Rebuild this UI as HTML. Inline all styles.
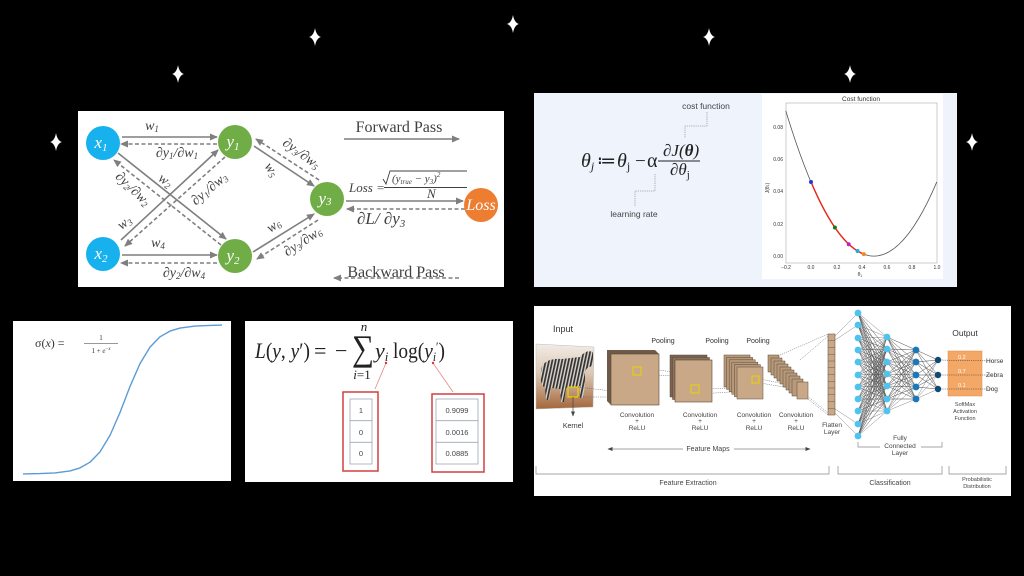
<!DOCTYPE html>
<html><head><meta charset="utf-8"><style>
html,body{margin:0;padding:0;background:#000;}
svg{display:block;font-family:"Liberation Sans",sans-serif;}
.sf{font-family:"Liberation Serif",serif;}
.it{font-style:italic;}
</style></head><body>
<svg width="1024" height="576" viewBox="0 0 1024 576" xmlns="http://www.w3.org/2000/svg">
<defs>
<marker id="ah" markerUnits="userSpaceOnUse" markerWidth="8" markerHeight="7" refX="7" refY="3.5" orient="auto"><path d="M0,0 L8,3.5 L0,7 z" fill="#7f7f7f"/></marker>
<marker id="ahs" markerUnits="userSpaceOnUse" markerWidth="5" markerHeight="4" refX="4.5" refY="2" orient="auto"><path d="M0,0 L5,2 L0,4 z" fill="#444"/></marker>
<linearGradient id="zg" x1="0" y1="0" x2="0" y2="1"><stop offset="0" stop-color="#f1ece6"/><stop offset="0.45" stop-color="#dcc8b4"/><stop offset="1" stop-color="#a4663a"/></linearGradient>
<pattern id="zs" width="3.2" height="10" patternUnits="userSpaceOnUse" patternTransform="rotate(12)"><rect width="3.2" height="10" fill="#d6d0c8"/><rect width="1.7" height="10" fill="#333"/></pattern>
<path id="star" d="M0,-9 Q1.3,-1.3 6,0 Q1.3,1.3 0,9 Q-1.3,1.3 -6,0 Q-1.3,-1.3 0,-9 Z" fill="#fff"/>
</defs>
<rect width="1024" height="576" fill="#000"/>
<!-- stars -->
<use href="#star" x="315" y="37"/>
<use href="#star" x="513" y="24"/>
<use href="#star" x="709" y="37"/>
<use href="#star" x="178" y="74"/>
<use href="#star" x="850" y="74"/>
<use href="#star" x="56" y="142"/>
<use href="#star" x="972" y="142"/>

<!-- ================= NN panel ================= -->
<rect x="78" y="111" width="426" height="176" fill="#fff"/>
<g stroke="#7f7f7f" stroke-width="1.6" fill="none">
<path d="M122,137 L217,137" marker-end="url(#ah)"/>
<path d="M217,144 L121,144" stroke-dasharray="4,2.5" marker-end="url(#ah)"/>
<path d="M118,153 L226,239" marker-end="url(#ah)"/>
<path d="M221,245 L114,160" stroke-dasharray="4,2.5" marker-end="url(#ah)"/>
<path d="M121,240 L218,150" marker-end="url(#ah)"/>
<path d="M225,157 L125,246" stroke-dasharray="4,2.5" marker-end="url(#ah)"/>
<path d="M122,255 L217,255" marker-end="url(#ah)"/>
<path d="M217,263 L121,263" stroke-dasharray="4,2.5" marker-end="url(#ah)"/>
<path d="M254,146 L314,186" marker-end="url(#ah)"/>
<path d="M319,180 L256,139" stroke-dasharray="4,2.5" marker-end="url(#ah)"/>
<path d="M253,252 L314,214" marker-end="url(#ah)"/>
<path d="M318,220 L257,259" stroke-dasharray="4,2.5" marker-end="url(#ah)"/>
<path d="M346,201 L463,201" marker-end="url(#ah)"/>
<path d="M465,209 L347,209" stroke-dasharray="4,2.5" marker-end="url(#ah)"/>
<path d="M344,139 L459,139" marker-end="url(#ah)"/>
<path d="M459,278 L334,278" stroke-dasharray="4,2.5" marker-end="url(#ah)"/>
</g>
<circle cx="103" cy="143" r="17" fill="#17b1ed"/>
<circle cx="103" cy="254" r="17" fill="#17b1ed"/>
<circle cx="235" cy="142" r="17" fill="#70ad47"/>
<circle cx="235" cy="256" r="17" fill="#70ad47"/>
<circle cx="327" cy="199" r="17" fill="#70ad47"/>
<circle cx="481" cy="205" r="17" fill="#ed7d31"/>
<g class="sf it" fill="#fff" font-size="17" text-anchor="middle">
<text x="101" y="148">x<tspan font-size="11" dy="3">1</tspan></text>
<text x="101" y="259">x<tspan font-size="11" dy="3">2</tspan></text>
<text x="233" y="147">y<tspan font-size="11" dy="3">1</tspan></text>
<text x="233" y="261">y<tspan font-size="11" dy="3">2</tspan></text>
<text x="325" y="204">y<tspan font-size="11" dy="1">3</tspan></text>
<text x="481" y="210" font-size="16">Loss</text>
</g>
<g class="sf" fill="#404040" font-size="16" text-anchor="middle">
<text x="399" y="132">Forward Pass</text>
<text x="396" y="277">Backward Pass</text>
</g>
<g class="sf it" fill="#404040" font-size="14" text-anchor="middle">
<text x="152" y="130">w<tspan font-size="9" dy="2">1</tspan></text>
<text x="177" y="157">∂y<tspan font-size="9" dy="2">1</tspan><tspan dy="-2">/∂w</tspan><tspan font-size="9" dy="2">1</tspan></text>
<text x="158" y="247">w<tspan font-size="9" dy="2">4</tspan></text>
<text x="184" y="277">∂y<tspan font-size="9" dy="2">2</tspan><tspan dy="-2">/∂w</tspan><tspan font-size="9" dy="2">4</tspan></text>
<text transform="translate(130,192) rotate(44)">∂y<tspan font-size="9" dy="2">2</tspan><tspan dy="-2">/∂w</tspan><tspan font-size="9" dy="2">2</tspan></text>
<text transform="translate(163,184) rotate(35)">w<tspan font-size="9" dy="2">2</tspan></text>
<text transform="translate(127,226) rotate(-38)">w<tspan font-size="9" dy="2">3</tspan></text>
<text transform="translate(212,192) rotate(-40)">∂y<tspan font-size="9" dy="2">1</tspan><tspan dy="-2">/∂w</tspan><tspan font-size="9" dy="2">3</tspan></text>
<text transform="translate(268,172) rotate(55)">w<tspan font-size="9" dy="2">5</tspan></text>
<text transform="translate(299,157) rotate(36)">∂y<tspan font-size="9" dy="2">3</tspan><tspan dy="-2">/∂w</tspan><tspan font-size="9" dy="2">5</tspan></text>
<text transform="translate(276,229) rotate(-35)">w<tspan font-size="9" dy="2">6</tspan></text>
<text transform="translate(305,245) rotate(-33)">∂y<tspan font-size="9" dy="2">3</tspan><tspan dy="-2">/∂w</tspan><tspan font-size="9" dy="2">6</tspan></text>
</g>
<g class="sf it" fill="#404040">
<text x="349" y="192" font-size="13">Loss =</text>
<text x="392" y="182" font-size="11">(y<tspan font-size="7" dy="2">true</tspan><tspan dy="-2"> − y</tspan><tspan font-size="7" dy="2">3</tspan><tspan dy="-2">)</tspan><tspan font-size="7" dy="-5">2</tspan></text>
<text x="427" y="198" font-size="13">N</text>
<text x="357" y="224" font-size="17">∂L/ ∂y<tspan font-size="11" dy="3">3</tspan></text>
</g>
<path d="M383,179 L386,184 L390,171 L467,171" stroke="#404040" stroke-width="0.9" fill="none"/>
<path d="M384,187.5 L467,187.5" stroke="#404040" stroke-width="0.9"/>

<!-- ================= Gradient descent panel ================= -->
<rect x="534" y="93" width="423" height="194" fill="#eef3fc"/>
<rect x="762" y="94" width="181" height="185" fill="#fff"/>
<g class="sf" fill="#222">
<text x="581" y="167" font-size="20" class="it">θ<tspan font-size="12" dy="3">j</tspan></text>
<text x="597" y="167" font-size="19">≔</text>
<text x="617" y="167" font-size="20" class="it">θ<tspan font-size="12" dy="3" font-style="normal">j</tspan></text>
<text x="635" y="167" font-size="19">−</text>
<text x="647" y="167" font-size="20">α</text>
<text x="663" y="156" font-size="17" class="it">∂J(<tspan font-weight="bold">θ</tspan>)</text>
<text x="670" y="175" font-size="17" class="it">∂θ<tspan font-size="11" dy="3" font-style="normal">j</tspan></text>
</g>
<path d="M658,161 L700,161" stroke="#222" stroke-width="1"/>
<g stroke="#999" stroke-width="0.8" fill="none" stroke-dasharray="1.2,1">
<path d="M707,112 L707,126 L685,126 L685,138"/>
<path d="M655,174 L655,191 L635,191 L635,206"/>
</g>
<text x="706" y="109" font-size="8.5" fill="#444" text-anchor="middle">cost function</text>
<text x="634" y="217" font-size="8.5" fill="#444" text-anchor="middle">learning rate</text>
<!-- plot -->
<rect x="786" y="103" width="151" height="160" fill="none" stroke="#aaa" stroke-width="0.6"/>
<text x="861" y="101" font-size="6.5" fill="#333" text-anchor="middle">Cost function</text>
<g font-size="5" fill="#333" text-anchor="end">
<text x="783" y="129">0.08</text><text x="783" y="161">0.06</text><text x="783" y="193">0.04</text><text x="783" y="226">0.02</text><text x="783" y="258">0.00</text>
</g>
<g font-size="5" fill="#333" text-anchor="middle">
<text x="786" y="269">−0.2</text><text x="811" y="269">0.0</text><text x="837" y="269">0.2</text><text x="862" y="269">0.4</text><text x="887" y="269">0.6</text><text x="912" y="269">0.8</text><text x="937" y="269">1.0</text>
<text x="860" y="276">θ<tspan font-size="3.5" dy="1">1</tspan></text>
</g>
<text transform="translate(769,188) rotate(-90)" font-size="5" fill="#333" text-anchor="middle">J(θ<tspan font-size="3.5">1</tspan>)</text>
<path d="M785.8,110.9 Q861.3,359.9 936.8,181.95" fill="none" stroke="#555" stroke-width="0.8"/>
<path d="M811,181.95 Q837.4,244.1 863.8,254.1" fill="none" stroke="#e8251b" stroke-width="1.4"/>
<circle cx="811" cy="182" r="2" fill="#1f3bd6"/>
<circle cx="834.9" cy="227.5" r="2" fill="#1a7a1a"/>
<circle cx="848.7" cy="244.2" r="2" fill="#c020c0"/>
<circle cx="857.5" cy="251" r="2" fill="#20a8d8"/>
<circle cx="863.8" cy="254.1" r="2" fill="#f08a20"/>

<!-- ================= Sigmoid panel ================= -->
<rect x="13" y="321" width="218" height="160" fill="#fff"/>
<path d="M23,473.9 L40,473.6 L55,472.9 L70,470.9 L80,467.9 L90,462.2 L100,451.9 L110,435.4 L120,412.5 L125,399.5 L130,386.5 L140,363.6 L150,347.1 L160,336.8 L170,331.1 L180,328.1 L195,326.1 L210,325.4 L222,325.1" fill="none" stroke="#5b9bd5" stroke-width="1.4" stroke-linejoin="round"/>
<g class="sf" fill="#333">
<text x="35" y="347" font-size="12">σ(<tspan class="it">x</tspan>)  =</text>
<text x="101" y="340" font-size="7" text-anchor="middle">1</text>
<text x="101" y="353" font-size="7" text-anchor="middle">1 + <tspan class="it">e</tspan><tspan font-size="5" dy="-3">−<tspan class="it">x</tspan></tspan></text>
</g>
<path d="M84,343.5 L118,343.5" stroke="#333" stroke-width="0.6"/>

<!-- ================= Loss panel ================= -->
<rect x="245" y="321" width="268" height="161" fill="#fff"/>
<g class="sf" fill="#222">
<text x="255" y="358" font-size="22" textLength="55" lengthAdjust="spacingAndGlyphs"><tspan class="it">L</tspan>(<tspan class="it">y</tspan>, <tspan class="it">y</tspan>′)</text>
<text x="314" y="358" font-size="22">=</text>
<text x="335" y="358" font-size="22">−</text>
<text x="352" y="360" font-size="36" textLength="22" lengthAdjust="spacingAndGlyphs">∑</text>
<text x="364" y="331" font-size="13" class="it" text-anchor="middle">n</text>
<text x="362" y="379" font-size="13" text-anchor="middle"><tspan class="it">i</tspan>=1</text>
<text x="375" y="358" font-size="22" class="it">y<tspan font-size="13" dy="3">i</tspan></text>
<text x="393" y="358" font-size="22" textLength="52" lengthAdjust="spacingAndGlyphs">log(<tspan class="it">y</tspan><tspan font-size="13" dy="3" class="it">i</tspan><tspan font-size="13" dy="-10">′</tspan><tspan dy="7">)</tspan></text>
</g>
<g stroke="#e28a8a" stroke-width="0.8">
<path d="M386,363 L375,389"/><path d="M433,363 L453,392"/>
</g>
<circle cx="386" cy="363" r="1.2" fill="#d33"/><circle cx="433" cy="363" r="1.2" fill="#d33"/>
<rect x="343" y="392" width="35" height="79" fill="none" stroke="#d04040" stroke-width="1.5"/>
<rect x="432" y="394" width="52" height="78" fill="none" stroke="#d04040" stroke-width="1.5"/>
<g fill="none" stroke="#9aa7b4" stroke-width="0.8">
<rect x="350" y="399" width="22" height="65"/><path d="M350,420.7 L372,420.7 M350,442.3 L372,442.3"/>
<rect x="436" y="399" width="42" height="65"/><path d="M436,420.7 L478,420.7 M436,442.3 L478,442.3"/>
</g>
<g font-size="7.5" fill="#444" text-anchor="middle">
<text x="361" y="413">1</text><text x="361" y="435">0</text><text x="361" y="456">0</text>
<text x="457" y="413">0.9099</text><text x="457" y="435">0.0016</text><text x="457" y="456">0.0885</text>
</g>

<!-- ================= CNN panel ================= -->
<rect x="534" y="306" width="477" height="190" fill="#fff"/>
<text x="563" y="332" font-size="9" fill="#333" text-anchor="middle">Input</text>
<path d="M536,344 L594,347 L593,407 L536,409 Z" fill="url(#zg)" stroke="#bbb" stroke-width="0.5"/>
<path d="M541,372 C541,362 550,358 562,359 L580,357 C584,352 588,350 593,352 L593,365 C590,368 587,366 585,372 L585,385 L583,398 L580,398 L580,386 L566,388 L564,402 L561,402 L560,389 L551,388 L549,400 L546,400 L545,388 C541,385 540,380 541,372 Z" fill="url(#zs)"/>
<rect x="568" y="387" width="10" height="10" fill="none" stroke="#e8d400" stroke-width="1.2"/>
<path d="M573,397 L573,416" stroke="#444" stroke-width="0.7" marker-end="url(#ahs)"/>
<text x="573" y="428" font-size="7" fill="#333" text-anchor="middle">Kernel</text>
<g stroke="#666" stroke-width="0.5" stroke-dasharray="1.2,1" fill="none">
<path d="M578,387 L636,394 M578,397 L636,397"/>
<path d="M641,367 L690,375 M641,375 L690,376"/>
<path d="M700,389 L745,388 M700,394 L745,391"/>
<path d="M760,379 L790,385 M760,383 L790,388"/>
<path d="M780,355 L828,334 M808,399 L828,415 M800,360 L828,336 M806,395 L828,413"/>
</g>
<!-- map1 -->
<path d="M607,350 L655,350 L659,354 L611,354 L611,405 L607,401 Z" fill="#6e5a48"/>
<rect x="611" y="354" width="48" height="51" fill="#c9a887" stroke="#5a4838" stroke-width="0.6"/>
<rect x="633" y="367" width="8" height="8" fill="none" stroke="#e8d400" stroke-width="1"/>
<!-- map2 -->
<rect x="670" y="355" width="37" height="42" fill="#7a6450" stroke="#5a4838" stroke-width="0.5"/>
<rect x="672.5" y="357.5" width="37" height="42" fill="#8a725c" stroke="#5a4838" stroke-width="0.5"/>
<rect x="675" y="360" width="37" height="42" fill="#c9a887" stroke="#5a4838" stroke-width="0.6"/>
<rect x="691" y="385" width="8" height="8" fill="none" stroke="#e8d400" stroke-width="1"/>
<text x="663" y="343" font-size="7" fill="#333" text-anchor="middle">Pooling</text>
<text x="717" y="343" font-size="7" fill="#333" text-anchor="middle">Pooling</text>
<text x="758" y="343" font-size="7" fill="#333" text-anchor="middle">Pooling</text>
<!-- map3 -->
<g fill="#b89a7a" stroke="#5a4838" stroke-width="0.5">
<rect x="724" y="355" width="26" height="32"/><rect x="726.6" y="357.4" width="26" height="32"/><rect x="729.2" y="359.8" width="26" height="32"/><rect x="731.8" y="362.2" width="26" height="32"/><rect x="734.4" y="364.6" width="26" height="32"/>
<rect x="737" y="367" width="26" height="32" fill="#c9a887"/>
</g>
<rect x="752" y="376" width="7" height="7" fill="none" stroke="#e8d400" stroke-width="1"/>
<!-- map4 -->
<g fill="#b89a7a" stroke="#5a4838" stroke-width="0.5">
<rect x="768" y="355" width="11" height="17"/><rect x="771" y="358" width="11" height="17"/><rect x="774" y="361" width="11" height="17"/><rect x="777" y="364" width="11" height="17"/><rect x="780" y="367" width="11" height="17"/><rect x="783" y="370" width="11" height="17"/><rect x="786" y="373" width="11" height="17"/><rect x="789" y="376" width="11" height="17"/><rect x="792" y="379" width="11" height="17"/>
<rect x="797" y="382" width="11" height="17" fill="#c9a887"/>
</g>
<g font-size="6.5" fill="#444" text-anchor="middle">
<text x="637" y="417">Convolution</text><text x="637" y="423">+</text><text x="637" y="430">ReLU</text>
<text x="700" y="417">Convolution</text><text x="700" y="423">+</text><text x="700" y="430">ReLU</text>
<text x="754" y="417">Convolution</text><text x="754" y="423">+</text><text x="754" y="430">ReLU</text>
<text x="796" y="417">Convolution</text><text x="796" y="423">+</text><text x="796" y="430">ReLU</text>
<text x="708" y="451" font-size="7">Feature  Maps</text>
<text x="832" y="427">Flatten</text><text x="832" y="434">Layer</text>
<text x="900" y="440">Fully</text><text x="900" y="448">Connected</text><text x="900" y="455">Layer</text>
<text x="965" y="406" font-size="5.5">SoftMax</text><text x="965" y="413" font-size="5.5">Activation</text><text x="965" y="420" font-size="5.5">Function</text>
<text x="688" y="485" font-size="7">Feature Extraction</text>
<text x="890" y="485" font-size="7">Classification</text>
<text x="977" y="481" font-size="5.5">Probabilistic</text><text x="977" y="488" font-size="5.5">Distribution</text>
</g>
<text x="965" y="336" font-size="8.5" fill="#333" text-anchor="middle">Output</text>
<g stroke="#444" stroke-width="0.6" fill="none">
<path d="M683,449 L608,449" marker-end="url(#ahs)"/>
<path d="M734,449 L810,449" marker-end="url(#ahs)"/>
</g>
<g stroke="#888" stroke-width="0.7" fill="none">
<path d="M536,466 L536,474 L829,474 L829,466"/>
<path d="M838,466 L838,474 L942,474 L942,466"/>
<path d="M949,466 L949,474 L1006,474 L1006,466"/>
<path d="M858,442 L858,447 L880,447 M921,447 L942,447 L942,442"/>
</g>
<!-- flatten -->
<rect x="828" y="334" width="7" height="81" fill="#c9a887" stroke="#6e5a48" stroke-width="0.6"/>
<path d="M828,340.75 h7 M828,347.5 h7 M828,354.25 h7 M828,361 h7 M828,367.75 h7 M828,374.5 h7 M828,381.25 h7 M828,388 h7 M828,394.75 h7 M828,401.5 h7 M828,408.25 h7" stroke="#6e5a48" stroke-width="0.5"/>
<!-- FC connections -->
<g stroke="#555" stroke-width="0.35" fill="none">
<path d="M835,336 L858,313 M835,413 L858,436 M835,340 L858,325 M835,409 L858,424"/>
<path d="M887,337 L858,313 L887,349 L858,313 L887,362 L858,313 L887,374 L858,313 L887,386 L858,313 L887,399 L858,313 L887,411"/>
<path d="M887,337 L858,325 L887,349 L858,325 L887,362 L858,325 L887,374 L858,325 L887,386 L858,325 L887,399 L858,325 L887,411"/>
<path d="M887,337 L858,338 L887,349 L858,338 L887,362 L858,338 L887,374 L858,338 L887,386 L858,338 L887,399 L858,338 L887,411"/>
<path d="M887,337 L858,350 L887,349 L858,350 L887,362 L858,350 L887,374 L858,350 L887,386 L858,350 L887,399 L858,350 L887,411"/>
<path d="M887,337 L858,362 L887,349 L858,362 L887,362 L858,362 L887,374 L858,362 L887,386 L858,362 L887,399 L858,362 L887,411"/>
<path d="M887,337 L858,375 L887,349 L858,375 L887,362 L858,375 L887,374 L858,375 L887,386 L858,375 L887,399 L858,375 L887,411"/>
<path d="M887,337 L858,387 L887,349 L858,387 L887,362 L858,387 L887,374 L858,387 L887,386 L858,387 L887,399 L858,387 L887,411"/>
<path d="M887,337 L858,399 L887,349 L858,399 L887,362 L858,399 L887,374 L858,399 L887,386 L858,399 L887,399 L858,399 L887,411"/>
<path d="M887,337 L858,411 L887,349 L858,411 L887,362 L858,411 L887,374 L858,411 L887,386 L858,411 L887,399 L858,411 L887,411"/>
<path d="M887,337 L858,424 L887,349 L858,424 L887,362 L858,424 L887,374 L858,424 L887,386 L858,424 L887,399 L858,424 L887,411"/>
<path d="M887,337 L858,436 L887,349 L858,436 L887,362 L858,436 L887,374 L858,436 L887,386 L858,436 L887,399 L858,436 L887,411"/>
<path d="M916,350 L887,337 L916,350 L887,349 L916,350 L887,362 L916,350 L887,374 L916,350 L887,386 L916,350 L887,399 L916,350 L887,411"/>
<path d="M916,362 L887,337 L916,362 L887,349 L916,362 L887,362 L916,362 L887,374 L916,362 L887,386 L916,362 L887,399 L916,362 L887,411"/>
<path d="M916,375 L887,337 L916,375 L887,349 L916,375 L887,362 L916,375 L887,374 L916,375 L887,386 L916,375 L887,399 L916,375 L887,411"/>
<path d="M916,387 L887,337 L916,387 L887,349 L916,387 L887,362 L916,387 L887,374 L916,387 L887,386 L916,387 L887,399 L916,387 L887,411"/>
<path d="M916,399 L887,337 L916,399 L887,349 L916,399 L887,362 L916,399 L887,374 L916,399 L887,386 L916,399 L887,399 L916,399 L887,411"/>
<path d="M938,360 L916,350 L938,360 L916,362 L938,360 L916,375 L938,360 L916,387 L938,360 L916,399"/>
<path d="M938,375 L916,350 L938,375 L916,362 L938,375 L916,375 L938,375 L916,387 L938,375 L916,399"/>
<path d="M938,389 L916,350 L938,389 L916,362 L938,389 L916,375 L938,389 L916,387 L938,389 L916,399"/>
</g>
<!-- softmax box -->
<rect x="948" y="351" width="34" height="45" fill="#f4a867" stroke="#e08a40" stroke-width="0.5"/>
<g stroke="#333" stroke-width="0.5" stroke-dasharray="1.2,1" fill="none">
<path d="M938,360 L993,361"/><path d="M938,375 L993,375"/><path d="M938,389 L992,389"/>
</g>
<g font-size="5.5" fill="#fff">
<text x="958" y="359">0.2</text><text x="958" y="373">0.7</text><text x="958" y="387">0.1</text>
</g>
<g font-size="6.5" fill="#333">
<text x="986" y="363">Horse</text><text x="986" y="377">Zebra</text><text x="986" y="391">Dog</text>
</g>
<!-- nodes -->
<g fill="#4ec3ee">
<circle cx="858" cy="313" r="3.4"/><circle cx="858" cy="325" r="3.4"/><circle cx="858" cy="338" r="3.4"/><circle cx="858" cy="350" r="3.4"/><circle cx="858" cy="362" r="3.4"/><circle cx="858" cy="375" r="3.4"/><circle cx="858" cy="387" r="3.4"/><circle cx="858" cy="399" r="3.4"/><circle cx="858" cy="411" r="3.4"/><circle cx="858" cy="424" r="3.4"/><circle cx="858" cy="436" r="3.4"/>
<circle cx="887" cy="337" r="3.4"/><circle cx="887" cy="349" r="3.4"/><circle cx="887" cy="362" r="3.4"/><circle cx="887" cy="374" r="3.4"/><circle cx="887" cy="386" r="3.4"/><circle cx="887" cy="399" r="3.4"/><circle cx="887" cy="411" r="3.4"/>
</g>
<g fill="#1b78b8">
<circle cx="916" cy="350" r="3.4"/><circle cx="916" cy="362" r="3.4"/><circle cx="916" cy="375" r="3.4"/><circle cx="916" cy="387" r="3.4"/><circle cx="916" cy="399" r="3.4"/>
</g>
<g fill="#0f4a72">
<circle cx="938" cy="360" r="3.2"/><circle cx="938" cy="375" r="3.2"/><circle cx="938" cy="389" r="3.2"/>
</g>
</svg>
</body></html>
